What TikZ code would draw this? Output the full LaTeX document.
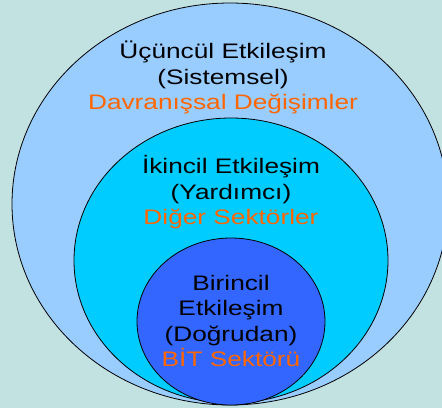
\documentclass[tikz,border=0pt]{standalone}
\usepackage{fontspec}
\setmainfont{Liberation Sans}[FakeStretch=1.25]
\usetikzlibrary{shapes.geometric}
\definecolor{bgcol}{HTML}{C2E2E2}
\definecolor{outercol}{HTML}{99CCFF}
\definecolor{middlecol}{HTML}{00CCFF}
\definecolor{innercol}{HTML}{3366FF}
\definecolor{orangetxt}{HTML}{FF6600}

\tikzset{
  ring/.style={ellipse, draw=black, line width=0.8pt, inner sep=0pt},
  ringtext/.style={align=center, inner sep=0pt, font=\fontsize{21}{25.5}\selectfont}
}

\begin{document}
\begin{tikzpicture}[x=1pt,y=-1pt]
  \useasboundingbox (0,0) rectangle (442,408);
  \clip (0,0) rectangle (442,408);
  \fill[bgcol] (0,0) rectangle (442,408);

  %% three nested rings, all touching at the bottom
  \node[ring, fill=outercol, minimum width=436pt, minimum height=402pt] (tertiary) at (230,204) {};
  \node[ring, fill=middlecol, minimum width=314pt, minimum height=285pt] (secondary) at (231,260.5) {};
  \node[ring, fill=innercol, minimum width=188pt, minimum height=167pt] (primary) at (231,321.5) {};

  \node[ringtext] (tertiarytext) at (223,77.5) {Üçüncül Etkileşim\\(Sistemsel)\\\textcolor{orangetxt}{Davranışsal Değişimler}};
  \node[ringtext] (secondarytext) at (231,192.5) {İkincil Etkileşim\\(Yardımcı)\\\textcolor{orangetxt}{Diğer Sektörler}};
  \node[ringtext] (primarytext) at (231,321) {Birincil\\Etkileşim\\(Doğrudan)\\\textcolor{orangetxt}{BİT Sektörü}};
\end{tikzpicture}
\end{document}
